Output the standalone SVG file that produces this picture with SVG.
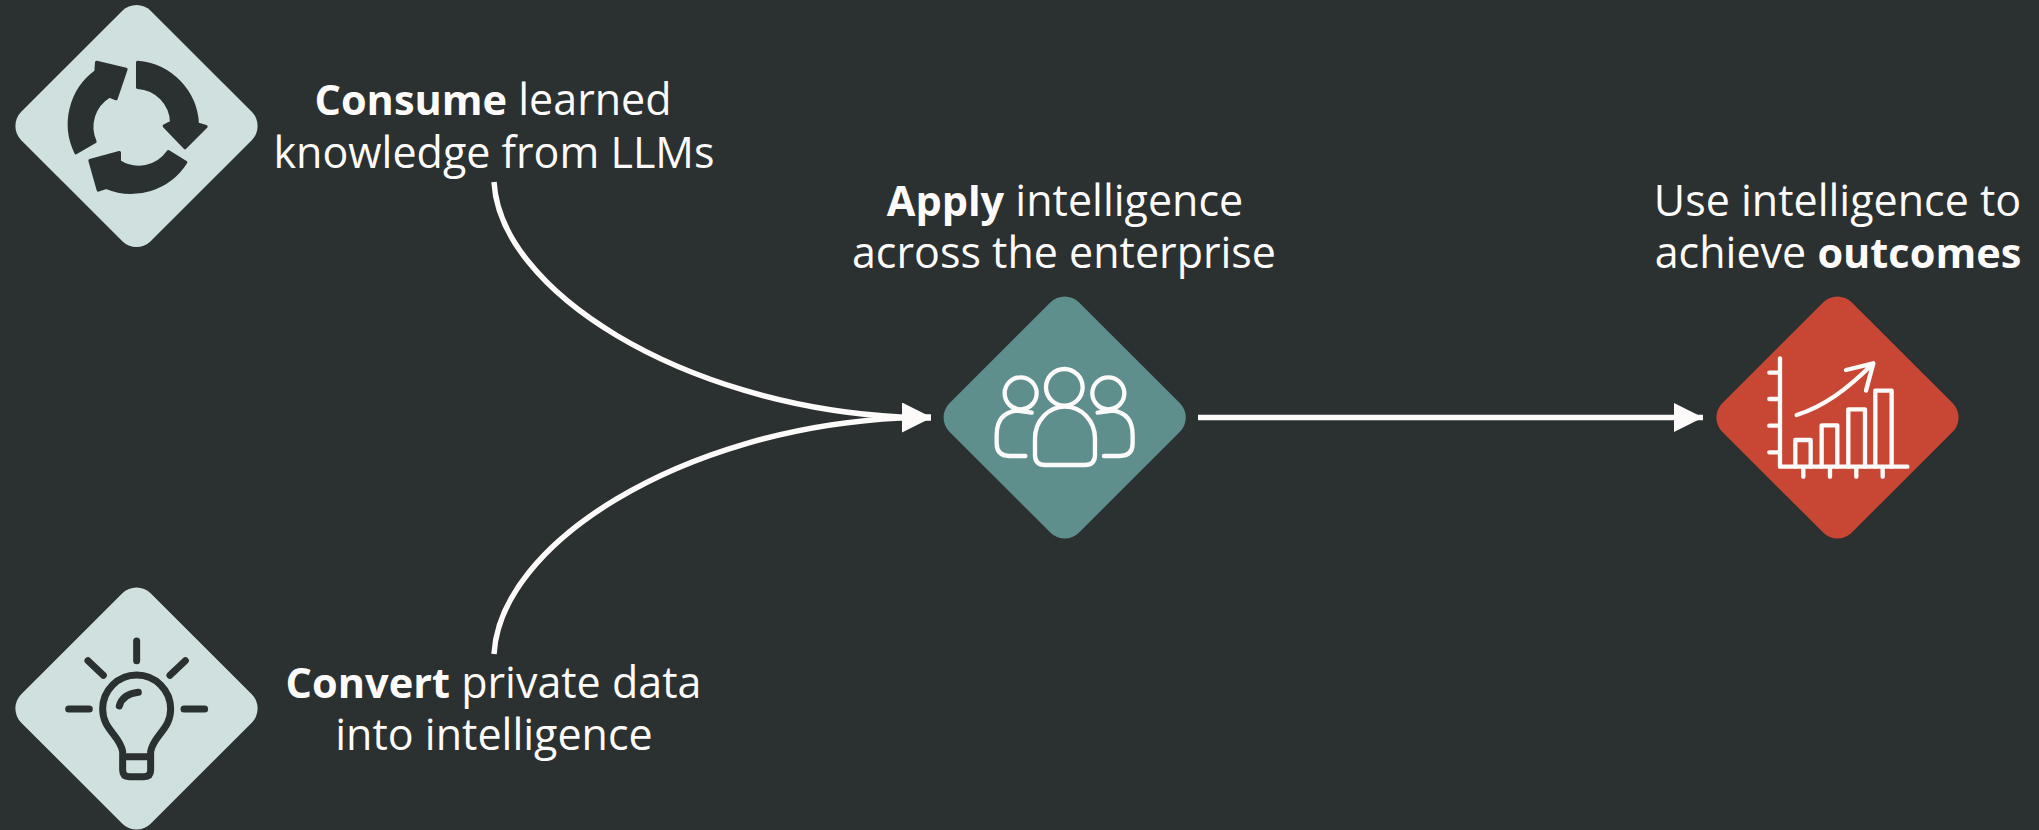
<svg xmlns="http://www.w3.org/2000/svg" width="2039" height="830" viewBox="0 0 2039 830">
<style>
.t{font-family:"Open Sans","Noto Sans","Liberation Sans",sans-serif;font-size:43px;fill:#fcfbfa;text-anchor:middle}
.b{font-weight:700;font-size:41.500px}
.c{fill:none;stroke:#fcfbfa;stroke-width:5.500}
.i{fill:none;stroke-linecap:round;stroke-linejoin:round}
.d{stroke:#2b3031;stroke-width:21}
.w{stroke:#fcfbfa;stroke-width:13}
</style>
<defs>
<marker id="ah" markerUnits="userSpaceOnUse" markerWidth="32" markerHeight="32" refX="29" refY="14.5" orient="auto"><path d="M0 0L29 14.5L0 29Z" fill="#fcfbfa"/></marker>
<rect id="dm" x="-91.5" y="-91.5" width="183" height="183" rx="20" transform="rotate(45)"/>
</defs>
<rect width="2039" height="830" fill="#2b3031"/>
<g id="connectors">
<path class="c" marker-end="url(#ah)" d="M494 182C500 290 680 405 900 417H931"/>
<path class="c" marker-end="url(#ah)" d="M494 654C500 544 680 429 900 418H931"/>
<path class="c" marker-end="url(#ah)" d="M1198 417.500H1703"/>
</g>
<g id="node-consume">
<use href="#dm" x="136.500" y="126" fill="#cfe0de"/>
<g transform="scale(.3333)" fill="#2b3031" stroke="#2b3031" stroke-width="10" stroke-linejoin="round">
<path d="M413 187A195 195 0 0 1 592 372L618 380L555 443L493 378L515 367A108 108 0 0 0 413 262Z"/>
<path d="M557 487A195 195 0 0 1 318 562L295 570L270 482L358 458L358 485A108 108 0 0 0 505 455Z"/>
<path d="M228 458A195 195 0 0 1 288 215L290 187L378 208L348 296L328 288A108 108 0 0 0 285 425Z"/>
</g>
<text class="t" x="493" y="115"><tspan class="b">Consume</tspan> learned</text>
<text class="t" x="494" y="167.500">knowledge from LLMs</text>
</g>
<g id="node-convert">
<use href="#dm" x="136.500" y="708.500" fill="#cfe0de"/>
<g class="i d" transform="translate(0 570) scale(.3333)">
<path d="M410 213V272M264 272L310 316M556 272L510 316M206 417H268M614 417H552"/>
<path d="M368 560V545C360 495 308 480 308 417A102 102 0 0 1 512 417C512 480 460 495 452 545V560ZM368 560V600Q368 620 388 620H432Q452 620 452 600V560"/>
<path d="M358 408Q368 372 415 367"/>
</g>
<text class="t" x="493.500" y="698"><tspan class="b">Convert</tspan> private data</text>
<text class="t" x="494" y="750">into intelligence</text>
</g>
<g id="node-apply">
<use href="#dm" x="1064.700" y="417.500" fill="#5f8f8d"/>
<g class="i w" transform="translate(920 280) scale(.3333)">
<circle cx="433" cy="322" r="55"/><circle cx="302" cy="340" r="48"/><circle cx="565" cy="340" r="48"/>
<path d="M345 475A90 95 0 0 1 525 475V525Q525 555 495 555H375Q345 555 345 525Z"/>
<path d="M316 528H268Q230 528 230 490V465Q230 400 290 392L335 398M552 528H600Q638 528 638 490V465Q638 400 578 392L533 398"/>
</g>
<text class="t" x="1065" y="216"><tspan class="b">Apply</tspan> intelligence</text>
<text class="t" x="1064" y="268">across the enterprise</text>
</g>
<g id="node-outcomes">
<use href="#dm" x="1837.500" y="417.500" fill="#c74634"/>
<g class="i w" transform="translate(1690 280) scale(.3333)">
<path d="M270 235V560H652M238 278H270M238 357H270M238 437H270M238 517H270M340 560V590M420 560V590M499 560V590M578 560V590"/>
<path d="M316 560V480H362V560M395 560V436H442V560M475 560V388H525V560M556 560V332H605V560"/>
<path d="M320 405C400 380 470 330 550 250M468 270L550 250L528 332"/>
</g>
<text class="t" x="1837.500" y="216">Use intelligence to</text>
<text class="t" x="1838" y="268">achieve <tspan class="b">outcomes</tspan></text>
</g>
</svg>
